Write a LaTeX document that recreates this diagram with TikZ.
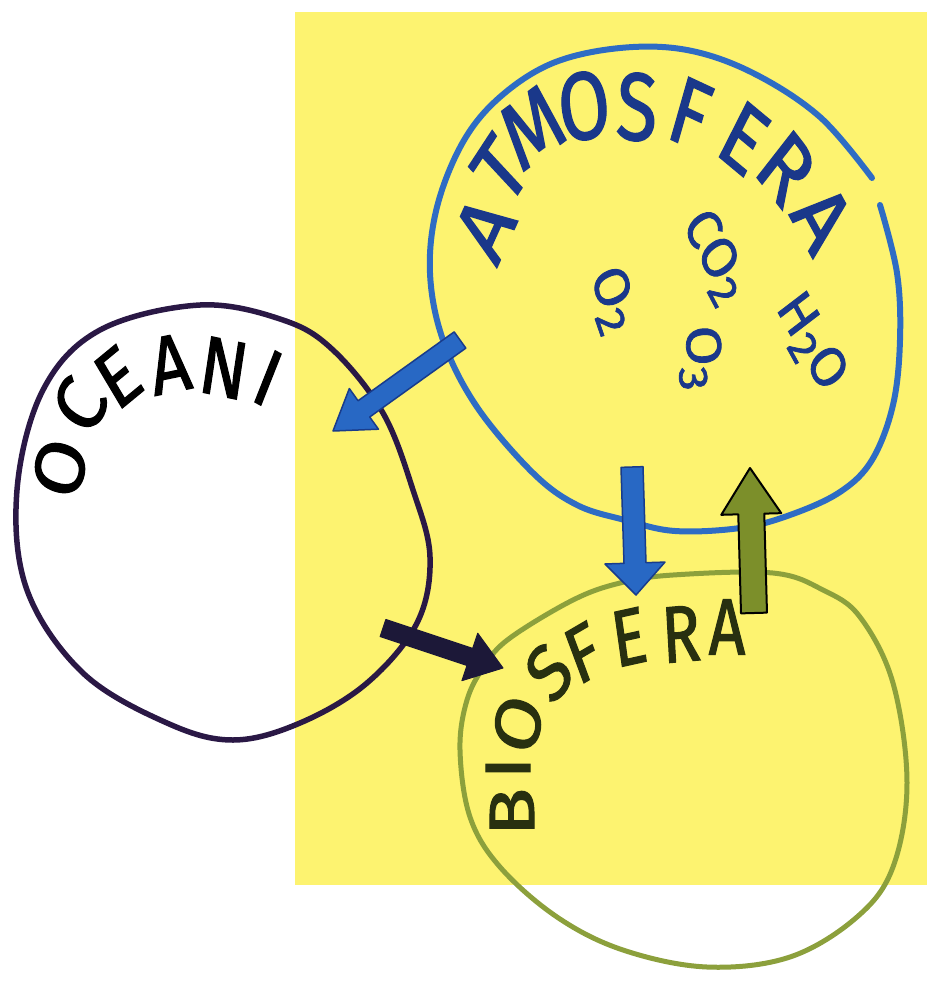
\documentclass[tikz,border=0pt]{standalone}
\usepackage{fontspec}
\setmainfont{Fira Sans}
\newfontfamily\marker{Fira Sans}[FakeBold=1.6]
\usetikzlibrary{calc}
\definecolor{paper}{RGB}{253,243,112}
\definecolor{atmline}{RGB}{46,108,196}
\definecolor{atmtext}{RGB}{26,56,138}
\definecolor{oceline}{RGB}{42,24,69}
\definecolor{bioline}{RGB}{140,160,60}
\definecolor{biotext}{RGB}{40,48,16}
\definecolor{arrblue}{RGB}{40,104,196}
\definecolor{arrblueedge}{RGB}{24,60,140}
\definecolor{arrgreen}{RGB}{124,143,42}
\definecolor{arrdark}{RGB}{28,24,56}
\newcommand{\chsub}[1]{\raisebox{-0.35ex}{\fontsize{48}{48}\selectfont #1}}
\newcommand{\blockarrow}[6]{%
  \coordinate (hb) at ($(#2)!#5!(#1)$);
  \path[#6] ($(#1)!#3!90:(#2)$) -- ($(hb)!#3!90:(#2)$) -- ($(hb)!#4!90:(#2)$) -- (#2)
    -- ($(hb)!#4!-90:(#2)$) -- ($(hb)!#3!-90:(#2)$) -- ($(#1)!#3!-90:(#2)$) -- cycle;}
\tikzset{
  atm/.style={text=atmtext, font=\marker\fontsize{96}{96}\selectfont, inner sep=0pt, xscale=0.78},
  oce/.style={text=black, font=\marker\fontsize{82}{82}\selectfont, inner sep=0pt, xscale=0.85},
  bio/.style={text=biotext, font=\marker\fontsize{80}{80}\selectfont, inner sep=0pt, xscale=0.8},
  chem/.style={text=atmtext, font=\marker\fontsize{58}{58}\selectfont, inner sep=0pt, xscale=0.85},
  atmcircle/.style={draw=atmline, line width=6pt, line cap=round},
  ocecircle/.style={draw=oceline, line width=5.5pt, line cap=round},
  biocircle/.style={draw=bioline, line width=5pt, line cap=round},
  bluearrow/.style={fill=arrblue, draw=arrblueedge, line width=1.5pt, line join=round},
  greenarrow/.style={fill=arrgreen, draw=black, line width=2pt, line join=round},
  darkarrow/.style={fill=arrdark, draw=arrdark, line width=1pt, line join=round}
}
\begin{document}
\begin{tikzpicture}[x=1pt,y=-1pt]
\useasboundingbox (0,0) rectangle (927,989);
\fill[paper] (295,12) rectangle (927,885);

% circles
\draw[atmcircle] plot[smooth, tension=0.6] coordinates {(880,205) (897,273) (900,340) (893,405) (872,460) (840,492) (790,515) (740,528) (675,531) (625,520) (577,505) (533,473) (477,407) (443,340) (430,273) (437,207) (463,142) (500,97) (553,63) (620,48) (687,50) (753,73) (820,117) (872,178)};
\draw[ocecircle] plot[smooth cycle, tension=0.6] coordinates {(200,305) (283,320) (333,350) (383,413) (413,490) (430,557) (417,623) (367,683) (300,723) (233,740) (167,723) (83,673) (27,590) (17,490) (43,390) (100,330)};
\draw[biocircle] plot[smooth cycle, tension=0.6] coordinates {(673,575) (773,573) (823,590) (860,617) (893,683) (907,783) (893,867) (857,917) (790,957) (707,967) (623,950) (557,917) (500,867) (470,817) (460,750) (467,700) (485,665) (510,638) (573,600) (620,583)};

% ATMOSFERA
\node[atm, rotate=60] (at1) at (485,228) {A};
\node[atm, rotate=50] (at2) at (500,170) {T};
\node[atm, rotate=30] (at3) at (532,127) {M};
\node[atm, rotate=10] (at4) at (584,106) {O};
\node[atm, rotate=-3] (at5) at (637,107) {S};
\node[atm, rotate=-20] (at6) at (690,113) {F};
\node[atm, rotate=-33] (at7) at (744,138) {E};
\node[atm, rotate=-45] (at8) at (786,168) {R};
\node[atm, rotate=-55] (at9) at (822,218) {A};

% formulas
\node[chem, rotate=-58] (co2) at (714,257) {CO\chsub{2}};
\node[chem, rotate=-68] (o2) at (612,300) {O\chsub{2}};
\node[chem, rotate=-86] (o3) at (700,358) {O\chsub{3}};
\node[chem, rotate=-57] (h2o) at (810,343) {H\chsub{2}O};

% OCEANI
\node[oce, rotate=75] (oc1) at (60,468) {O};
\node[oce, rotate=60] (oc2) at (80,405) {C};
\node[oce, rotate=35] (oc3) at (118,377) {E};
\node[oce, rotate=10] (oc4) at (170,364) {A};
\node[oce, rotate=-10] (oc5) at (224,368) {N};
\node[oce, rotate=-25] (oc6) at (268,378) {I};

% BIOSFERA
\node[bio, rotate=90] (bi1) at (512,812) {B};
\node[bio, rotate=90] (bi2) at (508,768) {I};
\node[bio, rotate=75] (bi3) at (518,724) {O};
\node[bio, rotate=45] (bi4) at (549,672) {S};
\node[bio, rotate=25] (bi5) at (583,653) {F};
\node[bio, rotate=10] (bi6) at (629,637) {E};
\node[bio, rotate=4] (bi7) at (681,634) {R};
\node[bio, rotate=0] (bi8) at (727,627) {A};

% arrows
\coordinate (s1) at (460,340);
\coordinate (t1) at (333,431);
\coordinate (s2) at (632,467);
\coordinate (t2) at (636,595);
\coordinate (s3) at (754,613);
\coordinate (t3) at (750,468);
\coordinate (s4) at (383,628);
\coordinate (t4) at (503,668);
\blockarrow{s1}{t1}{10pt}{25pt}{38pt}{bluearrow}
\blockarrow{s2}{t2}{11pt}{30pt}{32pt}{bluearrow}
\blockarrow{s3}{t3}{13pt}{30pt}{46pt}{greenarrow}
\blockarrow{s4}{t4}{9pt}{25pt}{35pt}{darkarrow}
\end{tikzpicture}
\end{document}
